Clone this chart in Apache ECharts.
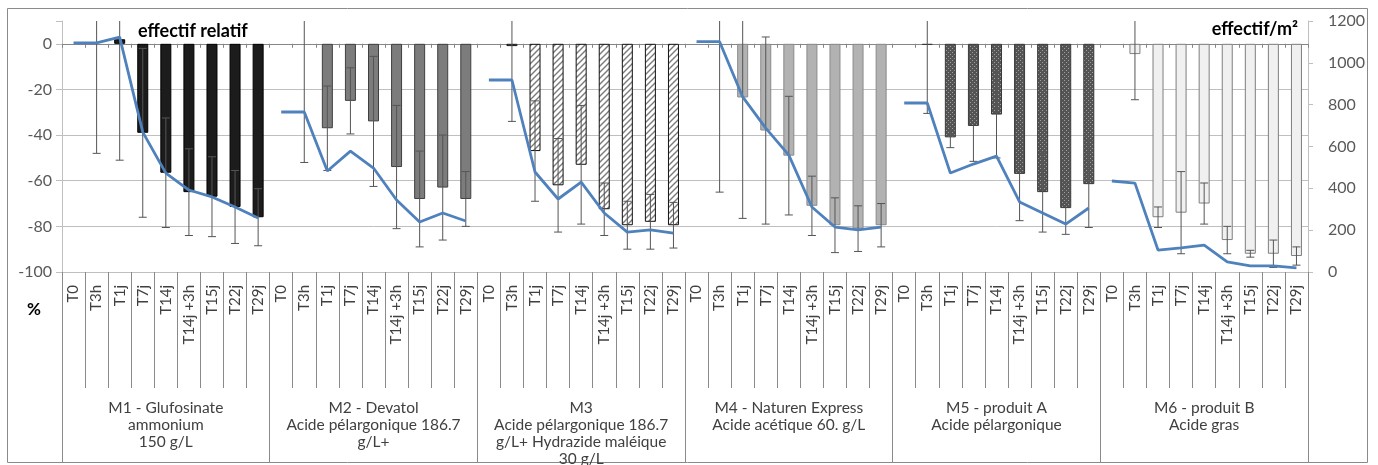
<!DOCTYPE html>
<html>
<head>
<meta charset="utf-8">
<script src="https://cdn.jsdelivr.net/npm/echarts@6/dist/echarts.min.js"></script>
<style>
html, body { margin: 0; padding: 0; background: #fff; }
#chart { width: 1378px; height: 465px; }
</style>
</head>
<body>
<div id="chart"></div>
<script>
// time points repeated in every treatment group
var timePoints = ['T0', 'T3h', 'T1j', 'T7j', 'T14j', 'T14j +3h', 'T15j', 'T22j', 'T29j'];
var groupNames = [
  'M1 - Glufosinate\nammonium\n150 g/L',
  'M2 - Devatol\nAcide pélargonique 186.7\ng/L+',
  'M3\nAcide pélargonique 186.7\ng/L+ Hydrazide maléique\n30 g/L',
  'M4 - Naturen Express\nAcide acétique 60. g/L',
  'M5 - produit A\nAcide pélargonique',
  'M6 - produit B\nAcide gras'
];

// effectif relatif (%) -> bars, left axis
var relM1 = [0, 0, 2, -39, -56.5, -65, -67, -71.5, -76];
var relM2 = [0, 0, -37, -25, -34, -54, -68, -63, -68];
var relM3 = [0, -1, -47, -62, -53, -72.5, -79.5, -78, -79.5];
var relM4 = [0, 0, -23.5, -38, -49, -71, -79.5, -81, -79.5];
var relM5 = [0, -0.5, -41, -36, -31, -57, -65, -72, -61.5];
var relM6 = [0, -4.5, -76, -74, -70, -86, -92, -92, -93];

// error bars (+/-) on the relative values
var errM1 = [0, 48, 53, 37, 24, 19, 17.5, 16, 12.5];
var errM2 = [0, 52, 18.5, 14.5, 28.5, 27, 21, 23, 12];
var errM3 = [0, 33, 22, 20.5, 26, 11.5, 10.5, 12, 10];
var errM4 = [0, 65, 53, 41, 26, 13, 12, 10, 9.5];
var errM5 = [0, 30, 4.5, 15.5, 19, 20.5, 17.5, 11.5, 19];
var errM6 = [0, 20, 4.5, 18, 9, 6, 1.5, 6, 4];

// effectif/m² -> line, right axis
var densM1 = [1095, 1095, 1123, 669, 473, 392, 359, 311, 258];
var densM2 = [765, 765, 483, 578, 497, 344, 239, 282, 244];
var densM3 = [918, 918, 478, 349, 430, 282, 191, 201, 186];
var densM4 = [1101, 1101, 837, 688, 559, 311, 215, 201, 215];
var densM5 = [808, 808, 473, 516, 554, 335, 282, 229, 306];
var densM6 = [435, 425, 105, 115, 129, 48, 29, 29, 20];

var relAll = [relM1, relM2, relM3, relM4, relM5, relM6];
var errAll = [errM1, errM2, errM3, errM4, errM5, errM6];
var densAll = [densM1, densM2, densM3, densM4, densM5, densM6];

var FONT = 'Lato, "Open Sans", sans-serif';

// fill patterns
function hatchPattern() {
  var c = document.createElement('canvas');
  c.width = 6; c.height = 6;
  var g = c.getContext('2d');
  g.fillStyle = '#ffffff';
  g.fillRect(0, 0, 6, 6);
  g.strokeStyle = '#7a7a7a';
  g.lineWidth = 1.4;
  g.beginPath();
  g.moveTo(0, 6); g.lineTo(6, 0);
  g.moveTo(-3, 3); g.lineTo(3, -3);
  g.moveTo(3, 9); g.lineTo(9, 3);
  g.stroke();
  return c;
}
function dotPattern() {
  var c = document.createElement('canvas');
  c.width = 4; c.height = 4;
  var g = c.getContext('2d');
  g.fillStyle = '#545454';
  g.fillRect(0, 0, 4, 4);
  g.fillStyle = '#a0a0a0';
  g.fillRect(0, 0, 1, 1);
  g.fillRect(2, 2, 1, 1);
  return c;
}

var barStyles = [
  { color: '#1c1c1c', borderColor: '#000', borderWidth: 1 },
  { color: '#7c7c7c', borderColor: '#3f3f3f', borderWidth: 1 },
  { color: { image: hatchPattern(), repeat: 'repeat' }, borderColor: '#111', borderWidth: 1 },
  { color: '#b2b2b2', borderColor: '#8a8a8a', borderWidth: 1 },
  { color: { image: dotPattern(), repeat: 'repeat' }, borderColor: '#3a3a3a', borderWidth: 1 },
  { color: '#f0f0f0', borderColor: '#7f7f7f', borderWidth: 1 }
];

var categories = [];
groupNames.forEach(function () {
  timePoints.forEach(function (t) { categories.push(t); });
});
var n = timePoints.length;

// place one group's values on the 54-slot category axis
function spread(g, arr, dropZero) {
  var out = [];
  for (var i = 0; i < categories.length; i++) {
    var k = i - g * n;
    var v = k >= 0 && k < n ? arr[k] : null;
    if (dropZero && v === 0) v = null;
    out.push(v);
  }
  return out;
}

var errData = [];
relAll.forEach(function (rel, g) {
  rel.forEach(function (v, k) {
    if (errAll[g][k] > 0) errData.push([g * n + k, v, errAll[g][k]]);
  });
});

function renderErr(params, api) {
  var cs = params.coordSys;
  var x = api.coord([api.value(0), 0])[0];
  var v = api.value(1), e = api.value(2);
  var yLo = api.coord([api.value(0), v - e])[1];
  var yHi = api.coord([api.value(0), v + e])[1];
  var top = cs.y, bot = cs.y + cs.height;
  var a = Math.max(top, Math.min(bot, yHi));
  var b = Math.max(top, Math.min(bot, yLo));
  var style = { stroke: '#555', lineWidth: 1 };
  var children = [{ type: 'line', shape: { x1: x, y1: a, x2: x, y2: b }, style: style }];
  if (yHi >= top) children.push({ type: 'line', shape: { x1: x - 4, y1: yHi, x2: x + 4, y2: yHi }, style: style });
  if (yLo <= bot) children.push({ type: 'line', shape: { x1: x - 4, y1: yLo, x2: x + 4, y2: yLo }, style: style });
  return { type: 'group', children: children };
}

var series = [];
relAll.forEach(function (rel, g) {
  series.push({
    type: 'bar',
    name: 'rel' + (g + 1),
    xAxisIndex: 0,
    yAxisIndex: 0,
    data: spread(g, rel, true),
    barWidth: 11,
    barGap: '-100%',
    itemStyle: barStyles[g],
    z: 2
  });
});
series.push({
  type: 'custom',
  name: 'erreur',
  xAxisIndex: 0,
  yAxisIndex: 0,
  data: errData,
  renderItem: renderErr,
  z: 3
});
densAll.forEach(function (d, g) {
  series.push({
    type: 'line',
    name: 'dens' + (g + 1),
    xAxisIndex: 0,
    yAxisIndex: 1,
    data: spread(g, d, false),
    showSymbol: false,
    symbol: 'none',
    connectNulls: false,
    lineStyle: { color: '#4f81bd', width: 2.8 },
    z: 4
  });
});

var chart = echarts.init(document.getElementById('chart'));
chart.setOption({
  animation: false,
  backgroundColor: '#fff',
  textStyle: { fontFamily: FONT },
  title: [
    { text: 'effectif relatif', left: 138, top: 22, padding: 0,
      textStyle: { fontSize: 18, fontWeight: 'bold', color: '#000', fontFamily: FONT } },
    { text: 'effectif/m²', right: 80, top: 20, padding: 0,
      textStyle: { fontSize: 18, fontWeight: 'bold', color: '#000', fontFamily: FONT } },
    { text: '%', left: 27, top: 301, padding: 0,
      textStyle: { fontSize: 17, fontWeight: 'bold', color: '#000', fontFamily: FONT } }
  ],
  graphic: [{
    type: 'rect',
    shape: { x: 7.5, y: 8.5, width: 1360, height: 454 },
    style: { fill: 'none', stroke: '#8a8a8a', lineWidth: 1 },
    silent: true
  }],
  grid: { left: 62, right: 70, top: 21, bottom: 193, containLabel: false, outerBoundsMode: 'none' },
  xAxis: [
    {
      type: 'category',
      data: categories,
      position: 'bottom',
      axisLine: { onZero: false, lineStyle: { color: '#bfbfbf' } },
      axisTick: { show: true, interval: 0, length: 116, lineStyle: { color: '#8a8a8a' } },
      axisLabel: { interval: 0, rotate: 90, margin: 13, fontSize: 15, color: '#404040', fontFamily: FONT },
      splitLine: { show: false }
    },
    {
      type: 'category',
      data: groupNames,
      position: 'bottom',
      offset: 116,
      axisLine: { show: false, onZero: false },
      axisTick: { show: true, interval: 0, length: 74, lineStyle: { color: '#8a8a8a' } },
      axisLabel: { interval: 0, margin: 11, fontSize: 15.5, lineHeight: 17, color: '#404040', fontFamily: FONT },
      splitLine: { show: false }
    },
    {
      type: 'category',
      data: categories,
      position: 'bottom',
      axisLine: { show: true, onZero: true, onZeroAxisIndex: 0, lineStyle: { color: '#868686' } },
      axisTick: { show: true, interval: 0, length: 4, lineStyle: { color: '#868686' } },
      axisLabel: { show: false },
      splitLine: { show: false }
    }
  ],
  yAxis: [
    {
      type: 'value',
      position: 'left',
      min: -100,
      max: 10,
      interval: 20,
      axisLine: { show: true, lineStyle: { color: '#bfbfbf' } },
      axisTick: { show: true, length: 6, lineStyle: { color: '#bfbfbf' } },
      axisLabel: {
        margin: 10, fontSize: 16, color: '#595959', fontFamily: FONT,
        formatter: function (v) { return v > 0 ? '' : String(v); }
      },
      splitLine: { show: true, showMaxLine: false, lineStyle: { color: '#bfbfbf' } }
    },
    {
      type: 'value',
      position: 'right',
      min: 0,
      max: 1200,
      interval: 200,
      axisLine: { show: true, lineStyle: { color: '#bfbfbf' } },
      axisTick: { show: true, length: 5, lineStyle: { color: '#bfbfbf' } },
      axisLabel: {
        margin: 20, fontSize: 16, color: '#595959', fontFamily: FONT,
        formatter: function (v) { return String(v); }
      },
      splitLine: { show: false }
    }
  ],
  series: series
});
</script>
</body>
</html>
